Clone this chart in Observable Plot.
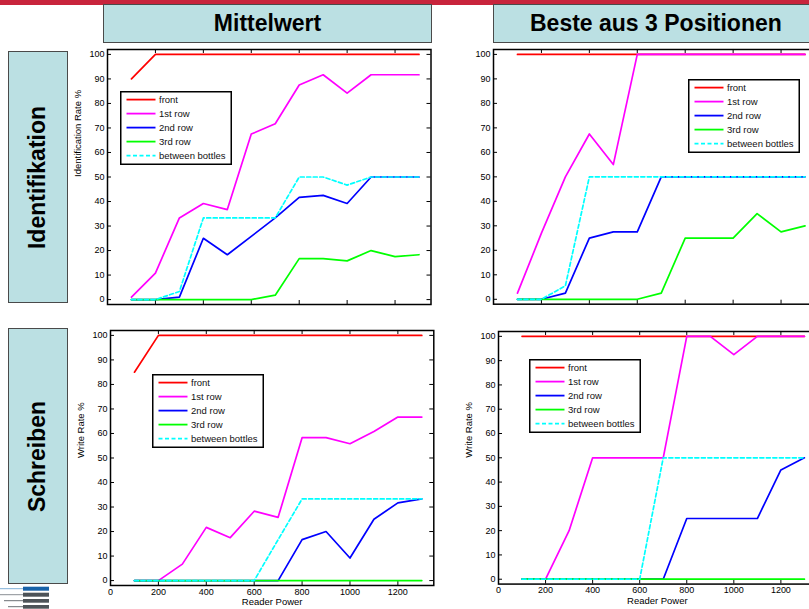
<!DOCTYPE html>
<html><head><meta charset="utf-8">
<script src="https://cdn.jsdelivr.net/npm/d3@7"></script>
<script src="https://cdn.jsdelivr.net/npm/@observablehq/plot@0.6"></script>
<style>
html,body{margin:0;padding:0;width:809px;height:609px;overflow:hidden;background:#fff;font-family:"Liberation Sans",Arial,sans-serif;}
#root{position:relative;width:809px;height:609px;overflow:hidden;}
.abs{position:absolute;}
.box{position:absolute;background:#bbe0e3;border:1.5px solid #4a4a4a;box-sizing:border-box;font-weight:bold;font-size:23px;display:flex;align-items:center;justify-content:center;color:#000;white-space:nowrap;}
.rot{display:inline-block;transform:rotate(-90deg);white-space:nowrap;}
</style></head><body>
<div id="root"></div>
<script>
// ---------- data ----------
const readerPower = [100,200,300,400,500,600,700,800,900,1000,1100,1200,1300];
const seriesNames = ["front","1st row","2nd row","3rd row","between bottles"];
const seriesColors = ["#ff0000","#ff00ff","#0000ff","#00ff00","#00ffff"];
const yTicks = [0,10,20,30,40,50,60,70,80,90,100];
const xTicks = [0,200,400,600,800,1000,1200];

const colTitles = ["Mittelwert","Beste aus 3 Positionen"];
const rowTitles = ["Identifikation","Schreiben"];
const yLabels = ["Identification Rate %","Write Rate %"];
const xLabel = "Reader Power";

// Identifikation – Mittelwert
const identMeanFront   = [90,100,100,100,100,100,100,100,100,100,100,100,100];
const identMeanFirst   = [1,10.8,33.3,39.2,36.7,67.5,71.7,87.5,91.7,84.2,91.7,91.7,91.7];
const identMeanSecond  = [0,0,1,25,18.3,25.8,33.3,41.7,42.5,39.2,50,50,50];
const identMeanThird   = [0,0,0,0,0,0,1.8,16.7,16.7,15.8,20,17.5,18.3];
const identMeanBetween = [0,0,3.3,33.3,33.3,33.3,33.3,50,50,46.7,50,50,50];

// Identifikation – Beste aus 3 Positionen
const identBestFront   = [100,100,100,100,100,100,100,100,100,100,100,100,100];
const identBestFirst   = [2.5,27,50,67.5,55,100,100,100,100,100,100,100,100];
const identBestSecond  = [0,0,2.5,25,27.5,27.5,50,50,50,50,50,50,50];
const identBestThird   = [0,0,0,0,0,0,2.5,25,25,25,35,27.5,30];
const identBestBetween = [0,0,5.5,50,50,50,50,50,50,50,50,50,50];

// Schreiben – Mittelwert
const writeMeanFront   = [85,100,100,100,100,100,100,100,100,100,100,100,100];
const writeMeanFirst   = [0,0,6.7,21.7,17.5,28.3,25.8,58.3,58.3,55.8,60.8,66.7,66.7];
const writeMeanSecond  = [0,0,0,0,0,0,0,16.7,20,9.2,25,31.7,33.3];
const writeMeanThird   = [0,0,0,0,0,0,0,0,0,0,0,0,0];
const writeMeanBetween = [0,0,0,0,0,0,16.7,33.3,33.3,33.3,33.3,33.3,33.3];

// Schreiben – Beste aus 3 Positionen
const writeBestFront   = [100,100,100,100,100,100,100,100,100,100,100,100,100];
const writeBestFirst   = [0,0,20,50,50,50,50,100,100,92.5,100,100,100];
const writeBestSecond  = [0,0,0,0,0,0,0,25,25,25,25,45,50];
const writeBestThird   = [0,0,0,0,0,0,0,0,0,0,0,0,0];
const writeBestBetween = [0,0,0,0,0,0,50,50,50,50,50,50,50];

// ---------- layout ----------
const root = document.getElementById("root");
function div(cls, css, html){ const d=document.createElement("div"); d.className=cls; Object.assign(d.style, css); if(html!=null) d.innerHTML=html; root.appendChild(d); return d; }

// top red bar
div("abs",{left:"0px",top:"0px",width:"809px",height:"5px",background:"#c8243c"});
// column headers
div("box",{left:"103px",top:"4px",width:"329px",height:"39px"}, colTitles[0]);
div("box",{left:"493px",top:"4px",width:"324px",height:"39px",justifyContent:"flex-start",paddingLeft:"36px"}, colTitles[1]);
// row headers
div("box",{left:"8px",top:"51px",width:"60px",height:"252px"}, `<span class="rot">${rowTitles[0]}</span>`);
div("box",{left:"8px",top:"328px",width:"60px",height:"256px"}, `<span class="rot">${rowTitles[1]}</span>`);

// logo (decoration)
const logo = document.createElementNS("http://www.w3.org/2000/svg","svg");
logo.setAttribute("width","60"); logo.setAttribute("height","24");
Object.assign(logo.style,{position:"absolute",left:"0px",top:"586px"});
logo.innerHTML = `
<rect x="23" y="0.7" width="26" height="4" fill="#1762a8"/><line x1="0" x2="23" y1="2.7" y2="2.7" stroke="#7fb0d8" stroke-width="1"/>
<rect x="23" y="6.7" width="26" height="4" fill="#4d5358"/><line x1="0" x2="23" y1="8.7" y2="8.7" stroke="#8a8f94" stroke-width="1"/>
<rect x="23" y="13" width="26" height="3.7" fill="#4d5358"/><line x1="4" x2="23" y1="14.7" y2="14.7" stroke="#6a6f74" stroke-width="1"/>
<rect x="23" y="19" width="26" height="3.7" fill="#4d5358"/><line x1="8" x2="23" y1="20.7" y2="20.7" stroke="#6a6f74" stroke-width="1"/>`;
root.appendChild(logo);

// ---------- panels ----------
function panel(cfg){
  const mL=40,mR=10,mT=10,mB=30;
  const {fl, ft, fw, fh, values, yLabel, showX, legend} = cfg;
  const rows = [];
  seriesNames.forEach((name,i)=>readerPower.forEach((xv,j)=>rows.push({x:xv,y:values[i][j],series:name})));
  const marks = [
    Plot.axisY({ticks:yTicks, tickSize:0, tickPadding:3, label:null, tickFormat:d=>String(d)}),
    Plot.tickY(yTicks,{y:d=>d, insetRight:fw-4, stroke:"black", strokeWidth:1}),
    Plot.tickY(yTicks,{y:d=>d, insetLeft:fw-4, stroke:"black", strokeWidth:1}),
    Plot.tickX(xTicks,{x:d=>d, insetBottom:fh-4, stroke:"black", strokeWidth:1}),
    Plot.tickX(xTicks,{x:d=>d, insetTop:fh-4, stroke:"black", strokeWidth:1})
  ];
  if (showX) {
    marks.push(Plot.axisX({ticks:xTicks, tickSize:0, tickPadding:3, label:null, tickFormat:d=>String(d)}));
    marks.push(Plot.text([xLabel],{frameAnchor:"bottom", dy:20, fontSize:9.5, text:d=>d}));
  }
  if (yLabel) marks.push(Plot.text([yLabel],{frameAnchor:"left", dx:-30, rotate:-90, fontSize:9.5, text:d=>d}));
  seriesNames.forEach((name,i)=>{
    marks.push(Plot.line(rows.filter(r=>r.series===name),{x:"x",y:"y",stroke:seriesColors[i],strokeWidth:1.7,strokeDasharray:i===4?"4,2.5":undefined}));
  });
  marks.push(Plot.frame({stroke:"black",strokeWidth:1.5}));
  const p = Plot.plot({
    width:mL+fw+mR, height:mT+fh+mB, marginLeft:mL, marginRight:mR, marginTop:mT, marginBottom:mB,
    x:{domain:[0,1350], axis: showX ? undefined : null},
    y:{domain:[-2,102]},
    style:{background:"transparent", fontFamily:'"Liberation Sans",Arial,sans-serif', fontSize:"9px", color:"black", overflow:"visible"},
    marks
  });
  Object.assign(p.style,{position:"absolute", left:(fl-mL)+"px", top:(ft-mT)+"px", maxWidth:"none"});
  root.appendChild(p);

  // legend box
  const lg = document.createElementNS("http://www.w3.org/2000/svg","svg");
  lg.setAttribute("width","112"); lg.setAttribute("height","74");
  Object.assign(lg.style,{position:"absolute", left:legend[0]+"px", top:legend[1]+"px", overflow:"visible"});
  let s = `<rect x="0.75" y="0.75" width="110.5" height="72.5" fill="white" stroke="black" stroke-width="1.5"/>`;
  seriesNames.forEach((name,i)=>{
    const yy = 8.6 + i*14;
    s += `<line x1="6.5" x2="35.5" y1="${yy}" y2="${yy}" stroke="${seriesColors[i]}" stroke-width="1.8" ${i===4?'stroke-dasharray="4,2.5"':''}/>`;
    s += `<text x="39" y="${yy}" dy="0.35em" font-size="9.5" font-family="Liberation Sans, Arial, sans-serif" fill="#111">${name}</text>`;
  });
  lg.innerHTML = s;
  root.appendChild(lg);
}

panel({fl:107, ft:49, fw:323.5, fh:255, yLabel:yLabels[0], showX:false, legend:[120,91],
  values:[identMeanFront,identMeanFirst,identMeanSecond,identMeanThird,identMeanBetween]});
panel({fl:493.2, ft:49.3, fw:323.5, fh:254.7, yLabel:null, showX:false, legend:[688,79],
  values:[identBestFront,identBestFirst,identBestSecond,identBestThird,identBestBetween]});
panel({fl:110, ft:330, fw:323.3, fh:255, yLabel:yLabels[1], showX:true, legend:[152,374],
  values:[writeMeanFront,writeMeanFirst,writeMeanSecond,writeMeanThird,writeMeanBetween]});
panel({fl:497.7, ft:330.7, fw:317.7, fh:252.6, yLabel:yLabels[1], showX:true, legend:[529,359],
  values:[writeBestFront,writeBestFirst,writeBestSecond,writeBestThird,writeBestBetween]});
</script>
</body></html>
